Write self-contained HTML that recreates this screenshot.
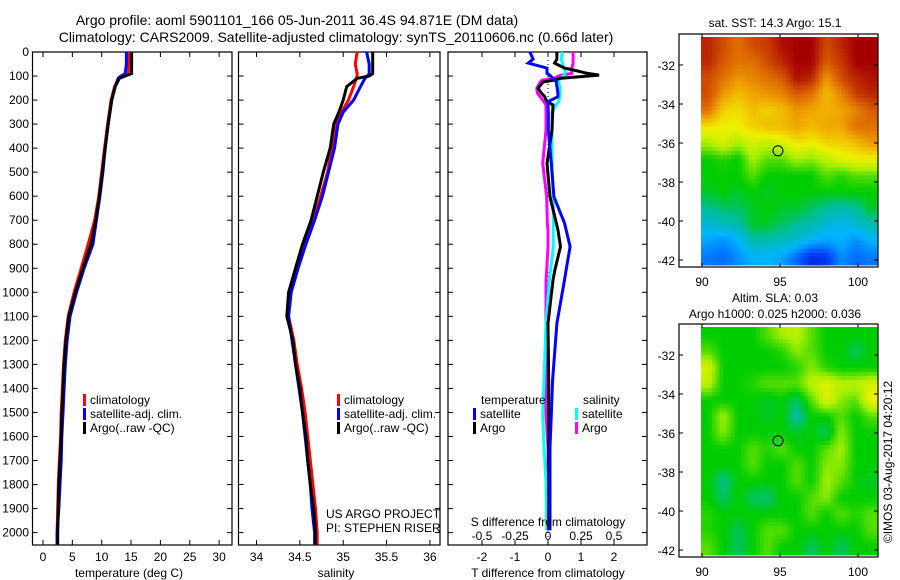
<!DOCTYPE html>
<html><head><meta charset="utf-8"><style>
body{margin:0;background:#fff;}
svg{display:block;font-family:"Liberation Sans",sans-serif;}
text{fill:#000;}
</style></head><body>
<svg id="fig" width="900" height="580" viewBox="0 0 900 580">
<text x="297" y="25" font-size="14" text-anchor="middle">Argo profile: aoml 5901101_166 05-Jun-2011 36.4S 94.871E (DM data)</text>
<text x="336" y="42" font-size="14" text-anchor="middle">Climatology: CARS2009. Satellite-adjusted climatology: synTS_20110606.nc (0.66d later)</text>
<g id="m1"></g>
<g id="m2"></g>
<g id="g1"></g>
<g id="g2"></g>
<g id="g3"></g>
<text x="775" y="27" font-size="12" text-anchor="middle">sat. SST: 14.3 Argo: 15.1</text>
<text x="775" y="302" font-size="12" text-anchor="middle">Altim. SLA: 0.03</text>
<text x="775" y="318" font-size="12" text-anchor="middle">Argo h1000: 0.025 h2000: 0.036</text>
<text transform="translate(892,462) rotate(-90)" font-size="12" text-anchor="middle">©IMOS 03-Aug-2017 04:20:12</text>
</svg>
<script>
const NS="http://www.w3.org/2000/svg";
// ---------- data ----------
const depthTicks=[0,100,200,300,400,500,600,700,800,900,1000,1100,1200,1300,1400,1500,1600,1700,1800,1900,2000];
const tempTicks=[0,5,10,15,20,25,30];
const salTicks=[34,34.5,35,35.5,36];
const salTickLabels=["34","34.5","35","35.5","36"];
const tdiffTicks=[-2,-1,0,1,2];
const sdiffTicks=[-0.5,-0.25,0,0.25,0.5];
const sdiffTickLabels=["-0.5","-0.25","0","0.25","0.5"];
const tDepth=[0,50,90,100,110,144,200,300,400,500,600,700,800,900,1000,1100,1200,1300,1400,1500,1600,1700,1800,1900,2000,2050];
const tArgo=[15.1,15.1,15.1,14.0,13.0,12.3,11.7,11.1,10.6,10.1,9.6,9.0,8.2,6.8,5.5,4.4,3.9,3.6,3.4,3.2,3.1,2.9,2.7,2.6,2.5,2.5];
const tClim=[14.7,14.7,14.5,13.5,12.9,12.2,11.6,11.0,10.5,10.0,9.5,8.8,7.7,6.5,5.3,4.3,3.8,3.5,3.3,3.1,3.0,2.8,2.6,2.5,2.4,2.4];
const tSat=[14.2,14.2,14.0,13.3,12.8,12.3,11.7,11.1,10.6,10.2,9.7,9.1,8.5,7.0,5.7,4.6,4.1,3.8,3.6,3.4,3.2,3.1,2.9,2.7,2.4,2.4];
const sDepth=[0,50,90,100,110,144,200,250,300,400,500,600,700,800,900,1000,1100,1200,1300,1400,1500,1600,1700,1800,1900,2000,2050];
const sArgo=[35.34,35.34,35.34,35.3,35.16,35.04,35.0,34.95,34.89,34.85,34.77,34.70,34.63,34.53,34.45,34.37,34.35,34.42,34.45,34.50,34.53,34.57,34.59,34.62,34.66,34.68,34.68];
const sClim=[35.16,35.14,35.16,35.16,35.15,35.12,35.06,34.98,34.91,34.87,34.82,34.74,34.66,34.55,34.46,34.39,34.37,34.43,34.47,34.52,34.56,34.59,34.62,34.65,34.68,34.70,34.70];
const sSat=[35.27,35.30,35.30,35.28,35.25,35.2,35.12,35.0,34.94,34.90,34.83,34.76,34.67,34.57,34.48,34.40,34.37,34.41,34.45,34.49,34.53,34.56,34.59,34.62,34.64,34.67,34.67];
const dDepth=[0,30,46,67,75,89,96,110,117,125,151,171,186,207,220,255,325,463,602,712,740,810,907,949,1129,1365,1510,1644,1787,1990];
const dtSat=[-0.55,-0.45,-0.6,-0.03,-0.03,-0.03,0.05,0.15,0.21,0.25,0.28,0.3,0.3,0,0,0.01,0.01,0.1,0.18,0.5,0.55,0.67,0.55,0.5,0.27,0.14,0.1,0.06,0.06,0.06];
const dtArgo=[0.27,0.27,0.2,0.5,0.77,1.2,1.55,0.36,0.2,-0.15,-0.3,-0.2,-0.1,-0.03,0.15,0.14,0.12,-0.03,0.06,0.25,0.3,0.38,0.21,0.15,0,0.02,0.02,0.02,0.02,0.02];
const dsSat=[0.11,0.1,0.11,0.12,0.13,0.13,0.12,0.1,0.08,0.08,0.09,0.09,0.09,0.08,0.06,0.03,0.03,0.03,0.04,0.04,0.04,0.04,0.02,0.01,-0.015,-0.03,-0.04,-0.03,-0.015,-0.01];
const dsArgo=[0.19,0.19,0.19,0.18,0.18,0.18,0.1,0.04,-0.045,-0.06,-0.085,-0.08,-0.06,-0.03,-0.015,-0.015,-0.015,-0.04,-0.01,-0.005,0,0,-0.01,-0.015,-0.015,-0.015,-0.015,0,0,-0.01];
const lonTicks=[90,95,100];
const latTicks=[-32,-34,-36,-38,-40,-42];
const argoLon=94.871, argoLat=-36.4;
const sstGrid=[
[.95,.9,.85,.9,.92,.98,1,1,.9,.95,1,1],
[.95,.88,.85,.85,.9,.95,1,1,.88,.92,1,1],
[.9,.85,.8,.82,.85,.88,.98,.95,.8,.9,.95,.98],
[.9,.8,.75,.78,.8,.82,.88,.85,.75,.82,.92,.95],
[.85,.72,.7,.75,.72,.75,.8,.78,.76,.78,.82,.88],
[.7,.68,.68,.72,.75,.75,.78,.75,.78,.78,.85,.85],
[.6,.65,.6,.65,.62,.65,.7,.68,.72,.72,.75,.8],
[.5,.52,.5,.6,.55,.55,.6,.58,.62,.66,.68,.68],
[.5,.5,.5,.55,.5,.5,.5,.5,.55,.52,.55,.55],
[.48,.5,.48,.5,.48,.5,.5,.5,.5,.5,.5,.5],
[.42,.45,.45,.48,.5,.48,.48,.45,.42,.4,.42,.48],
[.35,.38,.4,.48,.48,.45,.42,.4,.35,.32,.35,.4],
[.28,.25,.3,.4,.4,.38,.35,.3,.28,.3,.25,.3],
[.22,.2,.25,.3,.3,.28,.2,.1,.12,.25,.2,.22]];
const slaGrid=[
[.5,.5,.5,.5,.55,.6,.62,.55,.5,.5,.5,.5],
[.55,.5,.5,.5,.5,.52,.58,.55,.5,.5,.45,.5],
[.65,.5,.5,.5,.5,.5,.52,.58,.52,.5,.5,.5],
[.62,.5,.5,.52,.55,.55,.55,.62,.66,.62,.62,.65],
[.5,.5,.5,.5,.48,.5,.45,.55,.66,.58,.55,.68],
[.5,.6,.5,.5,.48,.5,.4,.5,.5,.55,.5,.55],
[.5,.58,.5,.5,.5,.5,.48,.5,.45,.58,.5,.5],
[.5,.5,.5,.55,.52,.55,.5,.5,.55,.6,.5,.5],
[.5,.5,.5,.55,.5,.5,.55,.5,.58,.58,.5,.5],
[.5,.42,.5,.5,.5,.5,.55,.5,.6,.55,.5,.48],
[.5,.45,.5,.45,.44,.5,.5,.55,.58,.5,.5,.5],
[.52,.5,.5,.5,.5,.5,.5,.55,.5,.55,.52,.55],
[.52,.5,.45,.5,.55,.55,.5,.5,.5,.5,.5,.55],
[.55,.5,.45,.5,.55,.5,.5,.45,.5,.45,.5,.5]];
// ---------- helpers ----------
function el(tag,attrs,parent){const e=document.createElementNS(NS,tag);for(const k in attrs)e.setAttribute(k,attrs[k]);parent.appendChild(e);return e;}
const yD=d=>52+d*0.2403;
const xT=t=>43+t*5.87;
const xS=s=>256.5+(s-34)*86.7;
const xDT=t=>548+t*33;
const xDS=s=>548+s*132;
function panel(g,x0,x1,name){
  const r=el('rect',{x:x0,y:52,width:x1-x0,height:493,fill:'none',stroke:'#000','stroke-width':1.2},g);
  
  
  depthTicks.forEach(d=>{
    const t1=el('line',{x1:x0,x2:x0+5,y1:yD(d),y2:yD(d),stroke:'#000'},g);
    
    
    const t2=el('line',{x1:x1-5,x2:x1,y1:yD(d),y2:yD(d),stroke:'#000'},g);
    
    
  });
}
function xticks(g,vals,labels,fx,ly,name){
  vals.forEach((v,i)=>{
    const a=el('line',{x1:fx(v),x2:fx(v),y1:52,y2:57,stroke:'#000'},g);
    
    
    const b=el('line',{x1:fx(v),x2:fx(v),y1:540,y2:545,stroke:'#000'},g);
    
    
    if(ly){const t=el('text',{x:fx(v),y:ly,'font-size':12,'text-anchor':'middle'},g);t.textContent=labels[i];
    
    }
  });
}
function line(g,ds,vs,fx,color,name){
  const pts=ds.map((d,i)=>fx(vs[i]).toFixed(1)+','+yD(d).toFixed(1)).join(' ');
  const p=el('polyline',{points:pts,fill:'none',stroke:color,'stroke-width':3,'stroke-linejoin':'miter'},g);
  
  
}
function txt(g,x,y,s,name,anchor){const t=el('text',{x:x,y:y,'font-size':12,'text-anchor':anchor||'start'},g);t.textContent=s;
  
  return t;}
function legend(g,x,y,color,label,name){
  const r=el('rect',{x:x,y:y-10,width:3,height:12,fill:color},g);
  
  
  txt(g,x+7,y,label,name+'-label');
}
// ---------- panel 1 ----------
const g1=document.getElementById('g1');
panel(g1,32.5,232,'temperature');
depthTicks.forEach(d=>txt(g1,29,yD(d)+4,String(d),'depth-label','end'));
xticks(g1,tempTicks,tempTicks.map(String),xT,561,'temperature');
line(g1,tDepth,tClim,xT,'#f00','temp-climatology-line');
line(g1,tDepth,tSat,xT,'#00f','temp-satellite-line');
line(g1,tDepth,tArgo,xT,'#000','temp-argo-line');
txt(g1,129,577,'temperature (deg C)','x-axis-title-temperature','middle');
legend(g1,83,404,'#f00','climatology','legend-climatology');
legend(g1,83,418,'#00f','satellite-adj. clim.','legend-satellite');
legend(g1,83,432,'#000','Argo(..raw -QC)','legend-argo');
// ---------- panel 2 ----------
const g2=document.getElementById('g2');
panel(g2,238.5,440,'salinity');
xticks(g2,salTicks,salTickLabels,xS,561,'salinity');
line(g2,sDepth,sClim,xS,'#f00','sal-climatology-line');
line(g2,sDepth,sSat,xS,'#00f','sal-satellite-line');
line(g2,sDepth,sArgo,xS,'#000','sal-argo-line');
txt(g2,336,577,'salinity','x-axis-title-salinity','middle');
legend(g2,337,404,'#f00','climatology','legend2-climatology');
legend(g2,337,418,'#00f','satellite-adj. clim.','legend2-satellite');
legend(g2,337,432,'#000','Argo(..raw -QC)','legend2-argo');
txt(g2,326,518,'US ARGO PROJECT','project-label');
txt(g2,326,532,'PI: STEPHEN RISER','pi-label');
// ---------- panel 3 ----------
const g3=document.getElementById('g3');
panel(g3,448,647,'difference');
xticks(g3,tdiffTicks,tdiffTicks.map(String),xDT,561,'tdiff');
sdiffTicks.forEach((v,i)=>txt(g3,xDS(v),540,sdiffTickLabels[i],'sdiff-tick-label','middle'));
const z=el('line',{x1:xDT(0),x2:xDT(0),y1:52,y2:545,stroke:'#000','stroke-dasharray':'1,3'},g3);


line(g3,dDepth,dsArgo,xDS,'#f0f','sal-argo-diff-line');
line(g3,dDepth,dsSat,xDS,'#0ff','sal-satellite-diff-line');
line(g3,dDepth,dtArgo,xDT,'#000','temp-argo-diff-line');
line(g3,dDepth,dtSat,xDT,'#00f','temp-satellite-diff-line');
txt(g3,481,404,'temperature','legend3-temperature-heading');
txt(g3,583,404,'salinity','legend3-salinity-heading');
legend(g3,473,418,'#00f','satellite','legend3-temp-satellite');
legend(g3,473,432,'#000','Argo','legend3-temp-argo');
legend(g3,575,418,'#0ff','satellite','legend3-sal-satellite');
legend(g3,575,432,'#f0f','Argo','legend3-sal-argo');
txt(g3,548,526,'S difference from climatology','sdiff-axis-title','middle');
txt(g3,548,577,'T difference from climatology','tdiff-axis-title','middle');
// ---------- maps ----------
const stops=[[0,[0,0,160]],[0.15,[0,70,255]],[0.3,[0,180,255]],[0.42,[0,190,150]],[0.5,[0,205,0]],[0.6,[170,240,0]],[0.68,[240,240,0]],[0.78,[240,165,0]],[0.88,[215,90,0]],[1,[165,0,0]]];
function cmap(v){for(let i=1;i<stops.length;i++){if(v<=stops[i][0]){const a=stops[i-1],b=stops[i];const f=(v-a[0])/(b[0]-a[0]);const c=a[1].map((x,k)=>Math.round(x+(b[1][k]-x)*f));return 'rgb('+c.join(',')+')';}}return 'rgb(165,0,0)';}
function sample(grid,fr,fc){
  const R=grid.length,C=grid[0].length;
  const r=Math.min(Math.max(fr,0),R-1),c=Math.min(Math.max(fc,0),C-1);
  const r0=Math.floor(r),c0=Math.floor(c),r1=Math.min(r0+1,R-1),c1=Math.min(c0+1,C-1);
  const a=r-r0,b=c-c0;
  return grid[r0][c0]*(1-a)*(1-b)+grid[r0][c1]*(1-a)*b+grid[r1][c0]*a*(1-b)+grid[r1][c1]*a*b;
}
function map(g,top,grid,name){
  const bx0=679,bx1=878,by0=top,by1=top+233;
  const lonX=l=>702+(l-90)*15.6;
  const latY=l=>top+31+(-32-l)*19.5;
  const dx0=701,dx1=878,dy0=top+3,dy1=top+231;
  const rows=grid.length,cols=grid[0].length,n=4;
  const cw=(dx1-dx0)/(cols*n),ch=(dy1-dy0)/(rows*n);
  for(let r=0;r<rows*n;r++)for(let c=0;c<cols*n;c++){
    const v=sample(grid,(r+0.5)/n-0.5,(c+0.5)/n-0.5);
    const cell=el('rect',{x:(dx0+c*cw).toFixed(2),y:(dy0+r*ch).toFixed(2),width:(cw+0.5).toFixed(2),height:(ch+0.5).toFixed(2),fill:cmap(v)},g);
    
    
  }
  const fr=el('rect',{x:bx0,y:by0,width:bx1-bx0,height:by1-by0,fill:'none',stroke:'#000','stroke-width':1.2},g);
  
  
  latTicks.forEach(l=>{
    const t=el('line',{x1:bx1-4,x2:bx1,y1:latY(l),y2:latY(l),stroke:'#000'},g);
    
    
    const t2=el('line',{x1:bx0,x2:bx0+4,y1:latY(l),y2:latY(l),stroke:'#000'},g);
    
    
    txt(g,675,latY(l)+5,String(l),name+'-lat-label','end');
  });
  lonTicks.forEach(l=>{
    const t=el('line',{x1:lonX(l),x2:lonX(l),y1:by0,y2:by0+4,stroke:'#000'},g);
    
    
    const t2=el('line',{x1:lonX(l),x2:lonX(l),y1:by1-4,y2:by1,stroke:'#000'},g);
    
    
    txt(g,lonX(l),by1+19,String(l),name+'-lon-label','middle');
  });
  const c=el('circle',{cx:lonX(argoLon),cy:latY(argoLat),r:5,fill:'none',stroke:'#000','stroke-width':1},g);
  
  
}
map(document.getElementById('m1'),34,sstGrid,'sst-map');
map(document.getElementById('m2'),324,slaGrid,'sla-map');
</script>
</body></html>
